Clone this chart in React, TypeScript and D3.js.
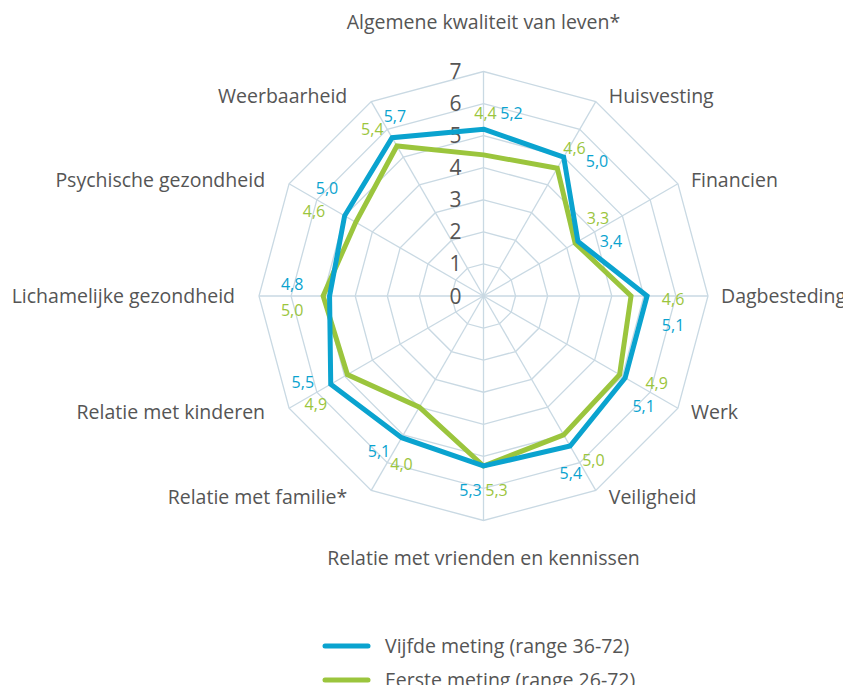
import * as d3 from "d3";

const categories = [
  "Algemene kwaliteit van leven*",
  "Huisvesting",
  "Financien",
  "Dagbesteding",
  "Werk",
  "Veiligheid",
  "Relatie met vrienden en kennissen",
  "Relatie met familie*",
  "Relatie met kinderen",
  "Lichamelijke gezondheid",
  "Psychische gezondheid",
  "Weerbaarheid",
];

const vijfdeMeting = [5.2, 5.0, 3.4, 5.1, 5.1, 5.4, 5.3, 5.1, 5.5, 4.8, 5.0, 5.7];
const eersteMeting = [4.4, 4.6, 3.3, 4.6, 4.9, 5.0, 5.3, 4.0, 4.9, 5.0, 4.6, 5.4];
const ticks = [0, 1, 2, 3, 4, 5, 6, 7];

const series = [
  { name: "Vijfde meting (range 36-72)", values: vijfdeMeting, color: "#0aa3cf" },
  { name: "Eerste meting (range 26-72)", values: eersteMeting, color: "#9bc53d" },
];

// hand placement of the value labels: px beyond the outer point, and sideways shift
const labelOut = [16, 13, 29, 26, 30, 24, 24, 23, 23, 31, 29, 17];
const labelSide = [15, 18, 3, 16, 2, 0, 0, 0, 3, -1, 2, 0];

const W = 851;
const H = 693;
const cx = 483.5;
const cy = 296;
const R = 224.5;
const FONT = "'Open Sans', sans-serif";
const TEXT = "#555555";
const GRID = "#c9d9e3";

const angle = d3
  .scaleLinear()
  .domain([0, categories.length])
  .range([0, 2 * Math.PI]);
const radius = d3.scaleLinear().domain([0, 7]).range([0, R]);

function pt(i: number, v: number): [number, number] {
  const a = angle(i);
  const r = radius(v);
  return [cx + Math.sin(a) * r, cy - Math.cos(a) * r];
}

const fmt = (v: number) => v.toFixed(1).replace(".", ",");

export default function App() {
  const line = d3
    .line<number>()
    .x((v, i) => pt(i, v)[0])
    .y((v, i) => pt(i, v)[1])
    .curve(d3.curveLinearClosed);

  const ring = (t: number) =>
    categories.map((_, i) => pt(i, t).join(",")).join(" ");

  return (
    <svg width={W} height={H} style={{ display: "block", margin: "-8px", background: "#fff" }}>
      {/* grid rings */}
      {ticks.slice(1).map((t) => (
        <polygon key={t} points={ring(t)} fill="none" stroke={GRID} strokeWidth={1.3} />
      ))}
      {categories.map((_, i) => {
        const [x, y] = pt(i, 7);
        return <line key={i} x1={cx} y1={cy} x2={x} y2={y} stroke={GRID} strokeWidth={1.3} />;
      })}

      {/* tick labels */}
      {ticks.map((t) => (
        <text
          key={t}
          x={cx - 22}
          y={cy - radius(t)}
          dy="0.36em"
          textAnchor="end"
          fontFamily={FONT}
          fontSize={21}
          fill={TEXT}
        >
          {t}
        </text>
      ))}

      {/* series lines */}
      {[...series].reverse().map((s) => (
        <path
          key={s.name}
          d={line(s.values) ?? ""}
          fill="none"
          stroke={s.color}
          strokeWidth={5}
          strokeLinejoin="miter"
        />
      ))}

      {/* data labels */}
      {categories.map((_, i) => {
        const a = angle(i);
        const maxV = Math.max(vijfdeMeting[i], eersteMeting[i]);
        const rm = radius(maxV) + labelOut[i];
        const px = Math.cos(a);
        const py = Math.sin(a);
        const mx = cx + Math.sin(a) * rm + labelSide[i] * px;
        const my = cy - Math.cos(a) * rm + labelSide[i] * py;
        return series.map((s, si) => {
          const sign = si === 0 ? 1 : -1;
          return (
            <text
              key={`${i}-${si}`}
              x={mx + sign * 13 * px}
              y={my + sign * 13 * py}
              dy="0.36em"
              textAnchor="middle"
              fontFamily={FONT}
              fontSize={16}
              fill={s.color}
            >
              {fmt(s.values[i])}
            </text>
          );
        });
      })}

      {/* category labels */}
      {categories.map((c, i) => {
        const a = angle(i);
        const [vx, vy] = pt(i, 7);
        const s = Math.sin(a);
        let x = vx;
        let y = vy - 7 * Math.cos(a);
        let anchor: "start" | "middle" | "end" = "middle";
        if (Math.abs(s) < 1e-6) {
          y = Math.cos(a) > 0 ? vy - 50 : vy + 37;
        } else if (s > 0) {
          x = vx + 13;
          anchor = "start";
        } else {
          x = vx - 24;
          anchor = "end";
        }
        return (
          <text
            key={c}
            x={x}
            y={y}
            dy="0.36em"
            textAnchor={anchor}
            fontFamily={FONT}
            fontSize={19.5}
            fill={TEXT}
          >
            {c}
          </text>
        );
      })}

      {/* legend */}
      {series.map((s, i) => (
        <g key={s.name} transform={`translate(0, ${646 + i * 34})`}>
          <line x1={325} x2={368} y1={0} y2={0} stroke={s.color} strokeWidth={5} strokeLinecap="round" />
          <text x={385} y={0} dy="0.36em" fontFamily={FONT} fontSize={19.5} fill={TEXT}>
            {s.name}
          </text>
        </g>
      ))}
    </svg>
  );
}
